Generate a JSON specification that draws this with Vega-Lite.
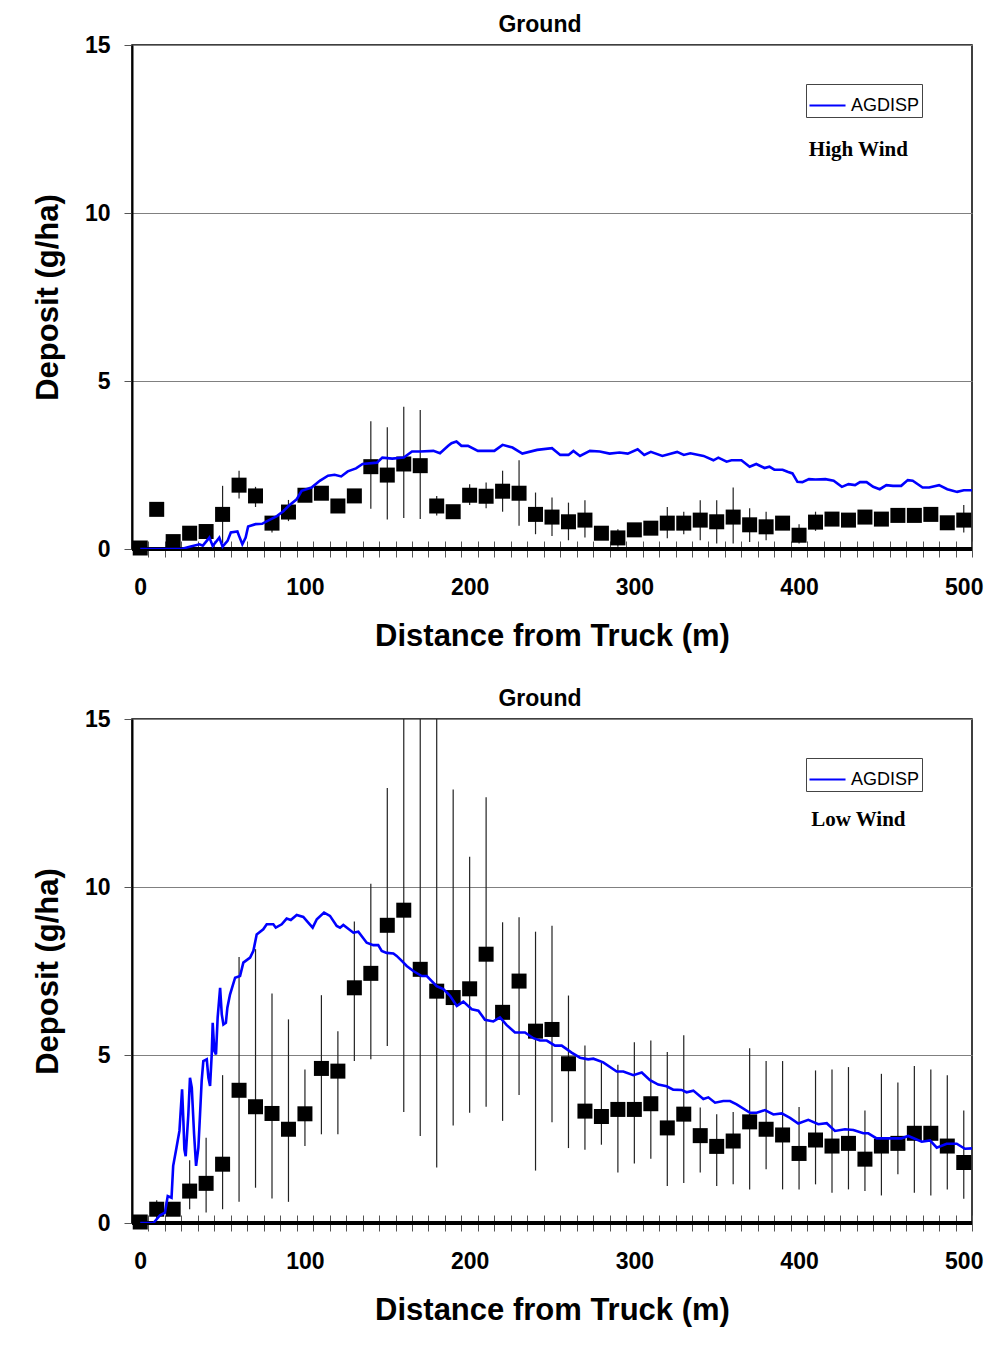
{
  "$schema": "https://vega.github.io/schema/vega-lite/v6.json",
  "padding": {"left": 31, "top": 13, "right": 5, "bottom": 5},
  "background": "white",
  "spacing": 35,
  "resolve": {"scale": {"color": "independent"}},
  "config": {
    "view": {"stroke": "black", "strokeWidth": 1.5},
    "axis": {
      "labelFont": "Liberation Sans", "labelFontWeight": "bold", "labelFontSize": 23, "labelColor": "black",
      "titleFont": "Liberation Sans", "titleFontWeight": "bold", "titleFontSize": 31, "titleColor": "black"
    },
    "title": {"font": "Liberation Sans", "fontWeight": "bold", "fontSize": 23, "color": "black", "offset": -3, "dx": -12}
  },
  "datasets": {
    "hw_obs": [
      {"x":0,"v":0.03,"lo":0.03,"hi":0.03},{"x":10,"v":1.18,"lo":1.18,"hi":1.18},{"x":20,"v":0.22,"lo":0.22,"hi":0.22},
      {"x":30,"v":0.47,"lo":0.47,"hi":0.47},{"x":40,"v":0.52,"lo":0.52,"hi":0.52},{"x":50,"v":1.03,"lo":0.18,"hi":1.88},
      {"x":60,"v":1.9,"lo":1.5,"hi":2.33},{"x":70,"v":1.58,"lo":1.25,"hi":1.85},{"x":80,"v":0.77,"lo":0.49,"hi":0.98},
      {"x":90,"v":1.1,"lo":0.83,"hi":1.46},{"x":100,"v":1.6,"lo":1.5,"hi":1.7},{"x":110,"v":1.66,"lo":1.6,"hi":1.75},
      {"x":120,"v":1.28,"lo":1.28,"hi":1.28},{"x":130,"v":1.58,"lo":1.58,"hi":1.58},{"x":140,"v":2.45,"lo":1.2,"hi":3.8},
      {"x":150,"v":2.2,"lo":0.88,"hi":3.62},{"x":160,"v":2.53,"lo":0.92,"hi":4.23},{"x":170,"v":2.48,"lo":0.89,"hi":4.14},
      {"x":180,"v":1.28,"lo":1.0,"hi":1.58},{"x":190,"v":1.11,"lo":1.11,"hi":1.11},{"x":200,"v":1.6,"lo":1.31,"hi":1.93},
      {"x":210,"v":1.57,"lo":1.21,"hi":1.98},{"x":220,"v":1.72,"lo":1.11,"hi":2.33},{"x":230,"v":1.66,"lo":0.69,"hi":2.64},
      {"x":240,"v":1.03,"lo":0.44,"hi":1.68},{"x":250,"v":0.95,"lo":0.39,"hi":1.53},{"x":260,"v":0.81,"lo":0.26,"hi":1.38},
      {"x":270,"v":0.86,"lo":0.34,"hi":1.45},{"x":280,"v":0.47,"lo":0.47,"hi":0.47},{"x":290,"v":0.33,"lo":0.07,"hi":0.59},
      {"x":300,"v":0.57,"lo":0.57,"hi":0.57},{"x":310,"v":0.62,"lo":0.62,"hi":0.62},{"x":320,"v":0.77,"lo":0.32,"hi":1.25},
      {"x":330,"v":0.77,"lo":0.44,"hi":1.11},{"x":340,"v":0.86,"lo":0.26,"hi":1.45},{"x":350,"v":0.81,"lo":0.16,"hi":1.45},
      {"x":360,"v":0.95,"lo":0.16,"hi":1.83},{"x":370,"v":0.72,"lo":0.21,"hi":1.21},{"x":380,"v":0.66,"lo":0.26,"hi":1.11},
      {"x":390,"v":0.77,"lo":0.77,"hi":0.77},{"x":400,"v":0.41,"lo":0.16,"hi":0.74},{"x":410,"v":0.8,"lo":0.54,"hi":1.11},
      {"x":420,"v":0.89,"lo":0.89,"hi":0.89},{"x":430,"v":0.86,"lo":0.86,"hi":0.86},{"x":440,"v":0.95,"lo":0.95,"hi":0.95},
      {"x":450,"v":0.89,"lo":0.7,"hi":1.1},{"x":460,"v":1.0,"lo":1.0,"hi":1.0},{"x":470,"v":1.0,"lo":1.0,"hi":1.0},
      {"x":480,"v":1.03,"lo":1.03,"hi":1.03},{"x":490,"v":0.78,"lo":0.78,"hi":0.78},{"x":500,"v":0.86,"lo":0.49,"hi":1.31}
    ],
    "hw_model": [
      {"x":0,"v":0},{"x":25,"v":0},{"x":30,"v":0.07},{"x":36,"v":0.14},{"x":38,"v":0.1},{"x":42,"v":0.34},{"x":44,"v":0.09},
      {"x":48,"v":0.34},{"x":50,"v":0.07},{"x":53,"v":0.24},{"x":55,"v":0.49},{"x":59,"v":0.52},{"x":60,"v":0.39},{"x":62,"v":0.14},
      {"x":64,"v":0.34},{"x":65.5,"v":0.67},{"x":70,"v":0.74},{"x":74,"v":0.75},{"x":77,"v":0.83},{"x":83,"v":0.98},{"x":87,"v":1.13},
      {"x":90,"v":1.28},{"x":95,"v":1.48},{"x":98,"v":1.73},{"x":104,"v":1.83},{"x":109,"v":2.03},{"x":114,"v":2.18},{"x":118,"v":2.21},
      {"x":122,"v":2.16},{"x":126,"v":2.31},{"x":131,"v":2.4},{"x":135,"v":2.53},{"x":143.7,"v":2.57},{"x":147,"v":2.72},{"x":153,"v":2.69},
      {"x":160,"v":2.72},{"x":165,"v":2.9},{"x":170,"v":2.9},{"x":178,"v":2.92},{"x":182,"v":2.85},{"x":187,"v":3.07},{"x":189,"v":3.15},
      {"x":192,"v":3.2},{"x":195,"v":3.07},{"x":199,"v":3.07},{"x":205,"v":2.92},{"x":215,"v":2.92},{"x":220,"v":3.1},{"x":226,"v":3.02},
      {"x":232,"v":2.84},{"x":241,"v":2.95},{"x":250,"v":3.0},{"x":255,"v":2.8},{"x":260,"v":2.8},{"x":263,"v":2.92},{"x":267,"v":2.77},
      {"x":273,"v":2.92},{"x":279,"v":2.9},{"x":285,"v":2.84},{"x":291,"v":2.87},{"x":296,"v":2.84},{"x":302,"v":2.97},{"x":306,"v":2.8},
      {"x":310,"v":2.89},{"x":317,"v":2.77},{"x":326,"v":2.89},{"x":330,"v":2.8},{"x":334,"v":2.85},{"x":342,"v":2.77},{"x":348,"v":2.64},
      {"x":351,"v":2.72},{"x":356,"v":2.6},{"x":359,"v":2.64},{"x":365,"v":2.64},{"x":370,"v":2.45},{"x":374,"v":2.53},{"x":379,"v":2.41},
      {"x":382,"v":2.45},{"x":385,"v":2.36},{"x":390,"v":2.36},{"x":393,"v":2.3},{"x":396,"v":2.25},{"x":399,"v":2.0},{"x":402,"v":1.99},
      {"x":406,"v":2.08},{"x":410,"v":2.07},{"x":416,"v":2.08},{"x":421,"v":2.03},{"x":426,"v":1.85},{"x":430,"v":1.93},{"x":434,"v":1.9},
      {"x":437,"v":1.99},{"x":441,"v":1.99},{"x":445,"v":1.85},{"x":449,"v":1.78},{"x":453,"v":1.9},{"x":457,"v":1.88},{"x":462,"v":1.88},
      {"x":466,"v":2.05},{"x":469,"v":2.03},{"x":475,"v":1.83},{"x":479,"v":1.83},{"x":485,"v":1.9},{"x":490,"v":1.78},{"x":496,"v":1.7},
      {"x":500,"v":1.75},{"x":505,"v":1.75}
    ],
    "lw_obs": [
      {"x":0,"v":0.03,"lo":0.03,"hi":0.03},{"x":10,"v":0.41,"lo":0.15,"hi":0.68},{"x":20,"v":0.41,"lo":0.25,"hi":0.6},
      {"x":30,"v":0.95,"lo":0.41,"hi":1.87},{"x":40,"v":1.18,"lo":0.31,"hi":2.54},{"x":50,"v":1.75,"lo":0.41,"hi":4.4},
      {"x":60,"v":3.95,"lo":0.63,"hi":7.92},{"x":70,"v":3.46,"lo":1.05,"hi":8.15},{"x":80,"v":3.26,"lo":0.73,"hi":6.83},
      {"x":90,"v":2.79,"lo":0.63,"hi":6.06},{"x":100,"v":3.25,"lo":2.29,"hi":4.57},{"x":110,"v":4.6,"lo":2.64,"hi":6.78},
      {"x":120,"v":4.52,"lo":2.64,"hi":5.71},{"x":130,"v":7.0,"lo":4.82,"hi":8.97},{"x":140,"v":7.43,"lo":4.87,"hi":10.1},
      {"x":150,"v":8.86,"lo":5.27,"hi":12.95},{"x":160,"v":9.31,"lo":3.3,"hi":15.5},{"x":170,"v":7.55,"lo":2.59,"hi":15.5},
      {"x":180,"v":6.9,"lo":1.65,"hi":15.5},{"x":190,"v":6.71,"lo":2.9,"hi":12.9},{"x":200,"v":6.97,"lo":3.28,"hi":10.9},
      {"x":210,"v":8.0,"lo":3.46,"hi":12.67},{"x":220,"v":6.27,"lo":3.04,"hi":8.95},{"x":230,"v":7.2,"lo":3.81,"hi":9.1},
      {"x":240,"v":5.71,"lo":1.56,"hi":8.67},{"x":250,"v":5.76,"lo":3.0,"hi":8.85},{"x":260,"v":4.74,"lo":2.23,"hi":6.77},
      {"x":270,"v":3.33,"lo":2.18,"hi":5.28},{"x":280,"v":3.17,"lo":2.33,"hi":4.76},{"x":290,"v":3.38,"lo":1.5,"hi":4.71},
      {"x":300,"v":3.38,"lo":1.77,"hi":5.38},{"x":310,"v":3.55,"lo":1.91,"hi":5.43},{"x":320,"v":2.83,"lo":1.1,"hi":5.09},
      {"x":330,"v":3.24,"lo":1.19,"hi":5.59},{"x":340,"v":2.6,"lo":1.5,"hi":3.44},{"x":350,"v":2.28,"lo":1.1,"hi":3.24},
      {"x":360,"v":2.44,"lo":1.15,"hi":3.3},{"x":370,"v":3.01,"lo":1.0,"hi":5.2},{"x":380,"v":2.79,"lo":1.6,"hi":4.82},
      {"x":390,"v":2.62,"lo":1.0,"hi":4.82},{"x":400,"v":2.07,"lo":1.0,"hi":3.45},{"x":410,"v":2.47,"lo":1.15,"hi":4.54},
      {"x":420,"v":2.29,"lo":0.9,"hi":4.57},{"x":430,"v":2.37,"lo":1.0,"hi":4.64},{"x":440,"v":1.9,"lo":0.95,"hi":3.35},
      {"x":450,"v":2.29,"lo":0.82,"hi":4.44},{"x":460,"v":2.37,"lo":1.45,"hi":4.18},{"x":470,"v":2.67,"lo":0.9,"hi":4.67},
      {"x":480,"v":2.67,"lo":0.82,"hi":4.57},{"x":490,"v":2.29,"lo":1.0,"hi":4.4},{"x":500,"v":1.8,"lo":0.72,"hi":3.35}
    ],
    "lw_model": [
      {"x":0,"v":0},{"x":8,"v":0},{"x":12,"v":0.23},{"x":15,"v":0.31},{"x":16.7,"v":0.8},{"x":19,"v":0.75},{"x":20,"v":1.7},
      {"x":22,"v":2.24},{"x":23.8,"v":2.74},{"x":25.4,"v":3.98},{"x":26.2,"v":3.04},{"x":26.8,"v":2.19},{"x":27.6,"v":1.99},
      {"x":29.2,"v":3.23},{"x":30.2,"v":4.32},{"x":31.3,"v":4.03},{"x":32.7,"v":2.64},{"x":33.9,"v":1.7},{"x":35.3,"v":2.24},
      {"x":36.3,"v":3.23},{"x":37.3,"v":4.23},{"x":38.3,"v":4.82},{"x":40.4,"v":4.87},{"x":41.4,"v":4.32},{"x":42.4,"v":4.08},
      {"x":43.4,"v":5.02},{"x":44,"v":5.96},{"x":45,"v":5.12},{"x":46,"v":5.02},{"x":47,"v":6.11},{"x":48.5,"v":7.0},{"x":49.5,"v":6.21},
      {"x":50.5,"v":5.91},{"x":52,"v":5.96},{"x":52.9,"v":6.41},{"x":54.5,"v":6.8},{"x":57.6,"v":7.3},{"x":60.6,"v":7.35},{"x":62.6,"v":7.75},
      {"x":66.7,"v":7.9},{"x":68.7,"v":8.1},{"x":70.7,"v":8.59},{"x":74.7,"v":8.74},{"x":76.8,"v":8.89},{"x":80.8,"v":8.89},{"x":82.3,"v":8.79},
      {"x":85.9,"v":8.89},{"x":88.9,"v":9.06},{"x":91.4,"v":9.02},{"x":95,"v":9.17},{"x":99,"v":9.11},{"x":102,"v":8.94},{"x":104.7,"v":8.79},
      {"x":107.2,"v":9.04},{"x":111.6,"v":9.24},{"x":115.2,"v":9.14},{"x":119.3,"v":8.84},{"x":121.3,"v":8.79},{"x":123.3,"v":8.87},
      {"x":129.4,"v":8.64},{"x":132.4,"v":8.67},{"x":137.5,"v":8.34},{"x":141.5,"v":8.27},{"x":144.5,"v":8.27},{"x":146.6,"v":8.1},
      {"x":149.6,"v":8.04},{"x":153.7,"v":8.02},{"x":155.7,"v":7.95},{"x":158.8,"v":7.8},{"x":161.8,"v":7.65},{"x":165.8,"v":7.5},
      {"x":170.9,"v":7.35},{"x":174,"v":7.35},{"x":177,"v":7.2},{"x":180,"v":7.05},{"x":184,"v":6.96},{"x":188.1,"v":6.76},
      {"x":192.2,"v":6.46},{"x":196.2,"v":6.59},{"x":201.3,"v":6.36},{"x":205.3,"v":6.32},{"x":209.3,"v":6.05},{"x":214.4,"v":6.0},
      {"x":218.4,"v":6.12},{"x":222.5,"v":5.89},{"x":227.5,"v":5.67},{"x":233.6,"v":5.67},{"x":238.7,"v":5.5},{"x":242.7,"v":5.43},
      {"x":246.8,"v":5.43},{"x":251.8,"v":5.28},{"x":255.9,"v":5.28},{"x":261.9,"v":5.07},{"x":267,"v":4.92},{"x":272,"v":4.87},
      {"x":275.1,"v":4.89},{"x":281.1,"v":4.78},{"x":289.3,"v":4.51},{"x":293.3,"v":4.51},{"x":299.4,"v":4.4},{"x":304.5,"v":4.48},
      {"x":309.5,"v":4.25},{"x":314.5,"v":4.12},{"x":319.6,"v":4.07},{"x":323.6,"v":3.97},{"x":328.7,"v":3.96},{"x":331.7,"v":3.89},
      {"x":335.8,"v":3.94},{"x":341.9,"v":3.69},{"x":344.9,"v":3.74},{"x":349,"v":3.58},{"x":354,"v":3.63},{"x":358.1,"v":3.63},
      {"x":362.1,"v":3.53},{"x":370.2,"v":3.28},{"x":374.3,"v":3.28},{"x":379.3,"v":3.36},{"x":384.4,"v":3.23},{"x":389.5,"v":3.26},
      {"x":394.5,"v":3.13},{"x":399.5,"v":2.96},{"x":405.6,"v":3.07},{"x":411.7,"v":2.94},{"x":416.8,"v":2.97},{"x":421.8,"v":2.74},
      {"x":427.9,"v":2.79},{"x":433,"v":2.77},{"x":439,"v":2.67},{"x":442,"v":2.67},{"x":447.1,"v":2.52},{"x":457.2,"v":2.52},
      {"x":462.3,"v":2.52},{"x":466.3,"v":2.59},{"x":474.5,"v":2.42},{"x":479.5,"v":2.46},{"x":483.6,"v":2.24},{"x":489.6,"v":2.36},
      {"x":495.7,"v":2.36},{"x":500.7,"v":2.21},{"x":505,"v":2.22}
    ]
  },
  "vconcat": [
    {
      "width": 840, "height": 504,
      "title": {"text": "Ground"},
      "encoding": {
        "x": {"field": "x", "type": "quantitative",
          "scale": {"domain": [-5, 505], "nice": false, "zero": false},
          "axis": {"title": "Distance from Truck (m)", "grid": false, "domain": false, "offset": -8, "tickSize": 16, "tickWidth": 1,
            "values": [0,100,200,300,400,500,5,15,25,35,45,55,65,75,85,95,105,115,125,135,145,155,165,175,185,195,205,215,225,235,245,255,265,275,285,295,305,315,325,335,345,355,365,375,385,395,405,415,425,435,445,455,465,475,485,495,505],
            "labelExpr": "datum.value % 100 === 0 ? datum.label : ''",
            "tickColor": {"condition": {"test": "datum.value % 10 === 0", "value": "transparent"}, "value": "#555"},
            "labelOverlap": false, "labelFlush": false, "labelBound": false, "labelPadding": 19, "titlePadding": 22}},
        "y": {"type": "quantitative",
          "scale": {"domain": [0, 15], "nice": false},
          "axis": {"title": "Deposit (g/ha)", "values": [0,5,10,15], "grid": true, "gridColor": "#808080", "gridWidth": 1,
            "domainColor": "black", "domainWidth": 2, "tickColor": "#555", "tickSize": 8, "labelPadding": 14, "titlePadding": 20}}
      },
      "layer": [
        {"data": {"name": "hw_obs"}, "mark": {"type": "rule", "color": "#222", "strokeWidth": 1.2, "clip": true},
          "encoding": {"y": {"field": "lo"}, "y2": {"field": "hi"}}},
        {"data": {"name": "hw_obs"}, "mark": {"type": "point", "shape": "square", "filled": true, "color": "black", "size": 225, "opacity": 1},
          "encoding": {"y": {"field": "v"}}},
        {"data": {"name": "hw_obs"}, "mark": {"type": "rule", "color": "black", "strokeWidth": 2.5},
          "encoding": {"x": {"datum": -5}, "x2": {"datum": 505}, "y": {"datum": 0}}},
        {"data": {"name": "hw_model"}, "mark": {"type": "line", "strokeWidth": 2.6, "clip": true},
          "encoding": {"y": {"field": "v"},
            "color": {"datum": "AGDISP", "type": "nominal", "scale": {"range": ["#0000ff"]},
              "legend": {"title": null, "orient": "none", "legendX": 674, "legendY": 39, "fillColor": "white", "strokeColor": "#444",
                "padding": 2, "symbolType": "stroke", "symbolSize": 1300, "symbolStrokeWidth": 2.2, "labelOffset": 4,
                "labelFont": "Liberation Sans", "labelFontSize": 18, "labelColor": "black"}}}},
        {"data": {"values": [{"x": 436, "v": 11.87, "label": "High Wind"}]},
          "mark": {"type": "text", "font": "Liberation Serif", "fontWeight": "bold", "fontSize": 21, "color": "black", "align": "center", "baseline": "middle"},
          "encoding": {"y": {"field": "v"}, "text": {"field": "label"}}}
      ]
    },
    {
      "width": 840, "height": 504,
      "title": {"text": "Ground"},
      "encoding": {
        "x": {"field": "x", "type": "quantitative",
          "scale": {"domain": [-5, 505], "nice": false, "zero": false},
          "axis": {"title": "Distance from Truck (m)", "grid": false, "domain": false, "offset": -8, "tickSize": 16, "tickWidth": 1,
            "values": [0,100,200,300,400,500,5,15,25,35,45,55,65,75,85,95,105,115,125,135,145,155,165,175,185,195,205,215,225,235,245,255,265,275,285,295,305,315,325,335,345,355,365,375,385,395,405,415,425,435,445,455,465,475,485,495,505],
            "labelExpr": "datum.value % 100 === 0 ? datum.label : ''",
            "tickColor": {"condition": {"test": "datum.value % 10 === 0", "value": "transparent"}, "value": "#555"},
            "labelOverlap": false, "labelFlush": false, "labelBound": false, "labelPadding": 19, "titlePadding": 22}},
        "y": {"type": "quantitative",
          "scale": {"domain": [0, 15], "nice": false},
          "axis": {"title": "Deposit (g/ha)", "values": [0,5,10,15], "grid": true, "gridColor": "#808080", "gridWidth": 1,
            "domainColor": "black", "domainWidth": 2, "tickColor": "#555", "tickSize": 8, "labelPadding": 14, "titlePadding": 20}}
      },
      "layer": [
        {"data": {"name": "lw_obs"}, "mark": {"type": "rule", "color": "#222", "strokeWidth": 1.2, "clip": true},
          "encoding": {"y": {"field": "lo"}, "y2": {"field": "hi"}}},
        {"data": {"name": "lw_obs"}, "mark": {"type": "point", "shape": "square", "filled": true, "color": "black", "size": 225, "opacity": 1},
          "encoding": {"y": {"field": "v"}}},
        {"data": {"name": "lw_obs"}, "mark": {"type": "rule", "color": "black", "strokeWidth": 2.5},
          "encoding": {"x": {"datum": -5}, "x2": {"datum": 505}, "y": {"datum": 0}}},
        {"data": {"name": "lw_model"}, "mark": {"type": "line", "strokeWidth": 2.6, "clip": true},
          "encoding": {"y": {"field": "v"},
            "color": {"datum": "AGDISP", "type": "nominal", "scale": {"range": ["#0000ff"]},
              "legend": {"title": null, "orient": "none", "legendX": 674, "legendY": 39, "fillColor": "white", "strokeColor": "#444",
                "padding": 2, "symbolType": "stroke", "symbolSize": 1300, "symbolStrokeWidth": 2.2, "labelOffset": 4,
                "labelFont": "Liberation Sans", "labelFontSize": 18, "labelColor": "black"}}}},
        {"data": {"values": [{"x": 436, "v": 12.0, "label": "Low Wind"}]},
          "mark": {"type": "text", "font": "Liberation Serif", "fontWeight": "bold", "fontSize": 21, "color": "black", "align": "center", "baseline": "middle"},
          "encoding": {"y": {"field": "v"}, "text": {"field": "label"}}}
      ]
    }
  ]
}
